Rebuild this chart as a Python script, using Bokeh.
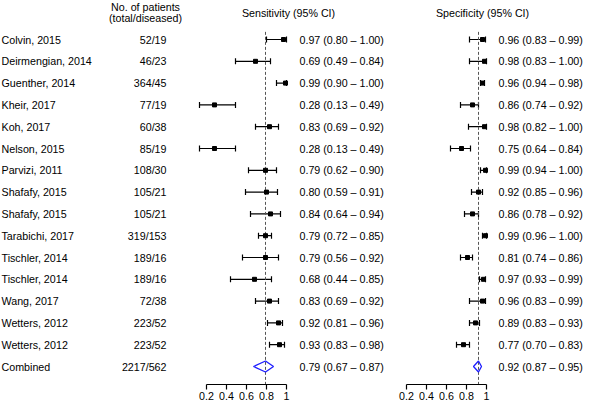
from bokeh.plotting import figure
from bokeh.models import Range1d, ColumnDataSource, Whisker, TeeHead, LinearAxis, FixedTicker
from bokeh.layouts import row
from bokeh.core.properties import value
from bokeh.embed import file_html
from bokeh.resources import INLINE

# ---------------- data ----------------
studies = ["Colvin, 2015", "Deirmengian, 2014", "Guenther, 2014", "Kheir, 2017",
           "Koh, 2017", "Nelson, 2015", "Parvizi, 2011", "Shafafy, 2015",
           "Shafafy, 2015", "Tarabichi, 2017", "Tischler, 2014", "Tischler, 2014",
           "Wang, 2017", "Wetters, 2012", "Wetters, 2012"]
patients = ["52/19", "46/23", "364/45", "77/19", "60/38", "85/19", "108/30", "105/21",
            "105/21", "319/153", "189/16", "189/16", "72/38", "223/52", "223/52"]
sens = [0.97, 0.69, 0.99, 0.28, 0.83, 0.28, 0.79, 0.80, 0.84, 0.79, 0.79, 0.68, 0.83, 0.92, 0.93]
sens_lo = [0.80, 0.49, 0.90, 0.13, 0.69, 0.13, 0.62, 0.59, 0.64, 0.72, 0.56, 0.44, 0.69, 0.81, 0.83]
sens_hi = [1.00, 0.84, 1.00, 0.49, 0.92, 0.49, 0.90, 0.91, 0.94, 0.85, 0.92, 0.85, 0.92, 0.96, 0.98]
spec = [0.96, 0.98, 0.96, 0.86, 0.98, 0.75, 0.99, 0.92, 0.86, 0.99, 0.81, 0.97, 0.96, 0.89, 0.77]
spec_lo = [0.83, 0.83, 0.94, 0.74, 0.82, 0.64, 0.94, 0.85, 0.78, 0.96, 0.74, 0.93, 0.83, 0.83, 0.70]
spec_hi = [0.99, 1.00, 0.98, 0.92, 1.00, 0.84, 1.00, 0.96, 0.92, 1.00, 0.86, 0.99, 0.99, 0.93, 0.83]

combined_label = "Combined"
combined_patients = "2217/562"
comb_sens, comb_sens_lo, comb_sens_hi = 0.79, 0.67, 0.87
comb_spec, comb_spec_lo, comb_spec_hi = 0.92, 0.87, 0.95

tick_values = [0.2, 0.4, 0.6, 0.8, 1.0]
tick_labels = ["0.2", "0.4", "0.6", "0.8", "1"]

header_patients = ["No. of patients", "(total/diseased)"]
header_sens = "Sensitivity (95% CI)"
header_spec = "Specificity (95% CI)"

# ---------------- layout / style ----------------
FONT = value("Liberation Sans")
FS = "10.7px"
ROW_PX = 21.8
FRAME_H = 384
TOP_Y = 39 / ROW_PX
BOT_Y = TOP_Y - FRAME_H / ROW_PX

n = len(studies)
ys = [-i for i in range(n)]
comb_y = -n


def fmt(v, lo, hi):
    return f"{v:.2f} ({lo:.2f} \u2013 {hi:.2f})"


def make_fig(x0, x1, w):
    p = figure(frame_width=w, frame_height=FRAME_H,
               x_range=Range1d(x0, x1), y_range=Range1d(BOT_Y, TOP_Y),
               output_backend="svg", toolbar_location=None,
               x_axis_location=None, y_axis_location=None,
               min_border_left=0, min_border_right=0, min_border_top=0,
               min_border_bottom=20)
    p.outline_line_color = None
    p.background_fill_color = "white"
    p.border_fill_color = "white"
    p.xgrid.visible = False
    p.ygrid.visible = False
    p.grid.grid_line_color = None
    ax = LinearAxis(bounds=(tick_values[0], tick_values[-1]),
                    ticker=FixedTicker(ticks=tick_values),
                    major_label_overrides=dict(zip(tick_values, tick_labels)))
    ax.axis_line_color = "black"
    ax.axis_line_width = 1.2
    ax.major_tick_line_color = "black"
    ax.major_tick_line_width = 1.2
    ax.major_tick_in = 0
    ax.major_tick_out = 5
    ax.minor_tick_line_color = None
    ax.major_label_standoff = 2
    ax.major_label_text_font = "Liberation Sans"
    ax.major_label_text_font_size = FS
    ax.major_label_text_color = "black"
    p.add_layout(ax, "below")
    return p


def forest(p, est, lo, hi, c_est, c_lo, c_hi):
    # dashed reference line at combined estimate
    p.segment(x0=[c_est], y0=[0.35], x1=[c_est], y1=[BOT_Y],
              line_color="#555555", line_width=1, line_dash="3 2")
    src = ColumnDataSource(dict(y=ys, est=est, lo=lo, hi=hi))
    w = Whisker(source=src, base="y", lower="lo", upper="hi", dimension="width",
                line_color="black", line_width=1.2,
                lower_head=TeeHead(size=6, line_color="black", line_width=1.2),
                upper_head=TeeHead(size=6, line_color="black", line_width=1.2))
    p.add_layout(w)
    p.scatter(x="est", y="y", source=src, marker="square", size=4,
              fill_color="black", line_color="black")
    h = 5.5 / ROW_PX
    p.patch(x=[c_lo, c_est, c_hi, c_est], y=[comb_y, comb_y + h, comb_y, comb_y - h],
            fill_color=None, line_color="#1f1fff", line_width=1.3)


def texts(p, x, y, t, align="left"):
    p.text(x=x, y=y, text=t, text_font=FONT, text_font_size=FS,
           text_align=align, text_baseline="middle", text_color="black")


# ---------------- left figure: names, counts, sensitivity ----------------
L0 = -1.86
pL = make_fig(L0, L0 + 3.95, 395)
texts(pL, [-1.85] * (n + 1), ys + [comb_y], studies + [combined_label])
texts(pL, [-0.20] * (n + 1), ys + [comb_y], patients + [combined_patients], align="right")
texts(pL, [-0.41, -0.41], [TOP_Y - 6 / ROW_PX, TOP_Y - 17 / ROW_PX], header_patients, align="center")
texts(pL, [1.02], [TOP_Y - 12 / ROW_PX], [header_sens], align="center")
forest(pL, sens, sens_lo, sens_hi, comb_sens, comb_sens_lo, comb_sens_hi)
texts(pL, [1.13] * (n + 1), ys + [comb_y],
      [fmt(v, a, b) for v, a, b in zip(sens, sens_lo, sens_hi)] +
      [fmt(comb_sens, comb_sens_lo, comb_sens_hi)])

# ---------------- right figure: specificity ----------------
R0 = 0.09
pR = make_fig(R0, R0 + 1.89, 189)
texts(pR, [0.96], [TOP_Y - 12 / ROW_PX], [header_spec], align="center")
forest(pR, spec, spec_lo, spec_hi, comb_spec, comb_spec_lo, comb_spec_hi)
texts(pR, [1.12] * (n + 1), ys + [comb_y],
      [fmt(v, a, b) for v, a, b in zip(spec, spec_lo, spec_hi)] +
      [fmt(comb_spec, comb_spec_lo, comb_spec_hi)])

layout = row(pL, pR)
open("out.html", "w").write(file_html(layout, INLINE))
